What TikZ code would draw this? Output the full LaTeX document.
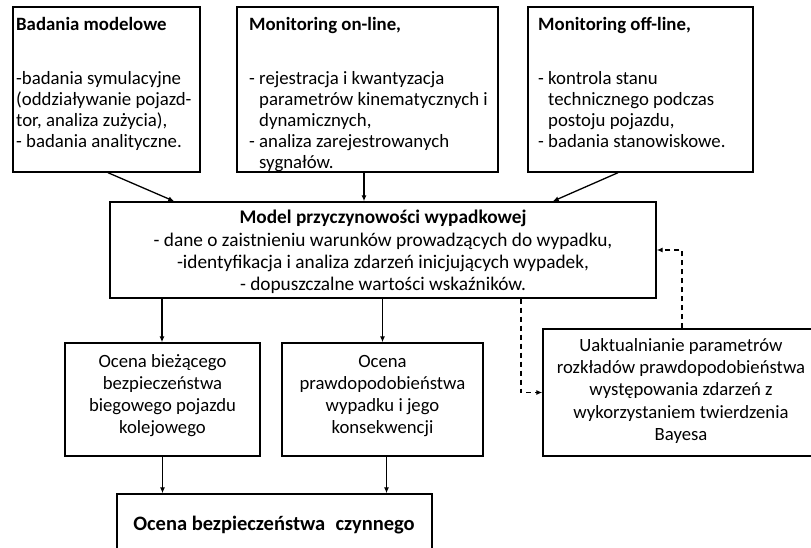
\documentclass[tikz,border=0pt]{standalone}
\usepackage{fontspec}
\setmainfont{Carlito}
\usetikzlibrary{arrows.meta,calc}
\begin{document}
\begin{tikzpicture}[x=1bp,y=-1bp,
  box/.style={draw, line width=1.4bp, inner sep=0pt, fill=white},
  ltxt/.style={inner sep=0pt, font=\fontsize{18.8bp}{21bp}\selectfont, align=left, anchor=north west},
  ctxt/.style={inner sep=0pt, font=\fontsize{18.7bp}{22.2bp}\selectfont, align=center},
  arr/.style={line width=1.3bp, -{Latex[length=6bp,width=5bp]}},
  darr/.style={arr, dash pattern=on 5bp off 4bp}]
\useasboundingbox (0,0) rectangle (811,548);
\clip (0,0) rectangle (811,548);
% boxes
\node[box, minimum width=187bp, minimum height=165bp] (b1) at (106.5,89.5) {};
\node[box, minimum width=261bp, minimum height=165bp] (b2) at (367.5,89.5) {};
\node[box, minimum width=225bp, minimum height=165bp] (b3) at (640.5,89.5) {};
\node[box, minimum width=546bp, minimum height=96bp] (m) at (383,250) {};
\node[box, minimum width=195bp, minimum height=113bp] (a) at (162.5,399.5) {};
\node[box, minimum width=201bp, minimum height=113bp] (b) at (382.5,399.5) {};
\node[box, minimum width=287bp, minimum height=127bp] (c) at (686.5,392.5) {};
\node[box, minimum width=315bp, minimum height=80bp] (f) at (274.5,534) {};
% texts
\node[ltxt] (t1) at (16,17) {\textbf{Badania modelowe}\\[33bp]
-badania symulacyjne\\
(oddziaływanie pojazd-\\
tor, analiza zużycia),\\
- badania analityczne.};
\node[ltxt] (t2) at (249,17) {\textbf{Monitoring on-line,}\\[33bp]
- rejestracja i kwantyzacja\\
\phantom{- }parametrów kinematycznych i\\
\phantom{- }dynamicznych,\\
- analiza zarejestrowanych\\
\phantom{- }sygnałów.};
\node[ltxt] (t3) at (538,17) {\textbf{Monitoring off-line,}\\[33bp]
- kontrola stanu\\
\phantom{- }technicznego podczas\\
\phantom{- }postoju pojazdu,\\
- badania stanowiskowe.};
\node[ctxt, font=\fontsize{19.3bp}{22.2bp}\selectfont] (tm) at (383,252) {\textbf{Model przyczynowości wypadkowej}\\
- dane o zaistnieniu warunków prowadzących do wypadku,\\
-identyfikacja i analiza zdarzeń inicjujących wypadek,\\
- dopuszczalne wartości wskaźników.};
\node[ctxt] (ta) at (162.5,395.5) {Ocena bieżącego\\bezpieczeństwa\\biegowego pojazdu\\kolejowego};
\node[ctxt] (tb) at (382.5,396) {Ocena\\prawdopodobieństwa\\wypadku i jego\\konsekwencji};
\node[ctxt] (tc) at (681,391) {Uaktualnianie parametrów\\rozkładów prawdopodobieństwa\\występowania zdarzeń z\\wykorzystaniem twierdzenia\\Bayesa};
\node[inner sep=0pt, font=\fontsize{20.5bp}{24bp}\selectfont\bfseries] (tf) at (274,525) {Ocena bezpieczeństwa\hspace{0.5em}czynnego};
% connectors
\draw[arr] ([xshift=1.5bp]b1.south) -- ([xshift=65bp]m.north west);
\draw[arr] ([xshift=-3.5bp]b2.south) -- ([xshift=-3.5bp]b2.south |- m.north);
\draw[arr] ([xshift=-22.5bp]b3.south) -- ([xshift=-104bp]m.north east);
\draw[arr] ([xshift=-0.5bp]a.north |- m.south) -- ([xshift=-0.5bp]a.north);
\draw[arr] (b.north |- m.south) -- (b.north);
\draw[arr] (a.south) -- (a.south |- f.north);
\draw[arr] ([xshift=4bp]b.south) -- ([xshift=4bp]b.south |- f.north);
\draw[darr] ([xshift=138bp]m.south) |- (c.west);
\draw[darr] ([xshift=-4.5bp]c.north) |- (m.east);
\end{tikzpicture}
\end{document}
